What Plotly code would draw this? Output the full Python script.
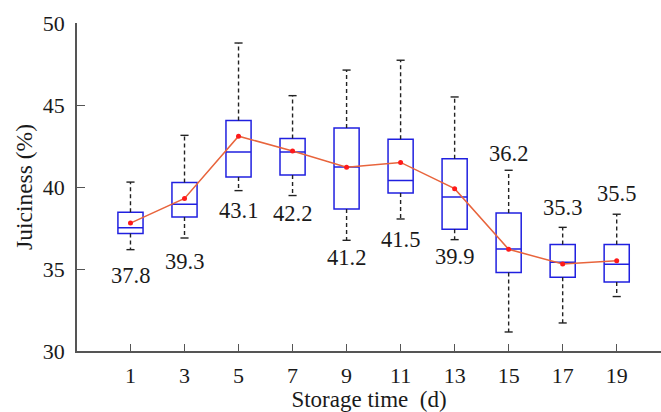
import plotly.graph_objects as go

days = [1, 3, 5, 7, 9, 11, 13, 15, 17, 19]
upper = [40.30, 43.15, 48.78, 45.57, 47.13, 47.73, 45.49, 41.02, 37.54, 38.34]
q3 = [38.46, 40.27, 44.05, 42.95, 43.60, 42.91, 41.73, 38.41, 36.49, 36.49]
median = [37.52, 38.95, 42.13, 42.13, 41.22, 40.39, 39.39, 36.22, 35.41, 35.29]
q1 = [37.16, 38.17, 40.61, 40.73, 38.66, 39.63, 37.42, 34.78, 34.49, 34.21]
lower = [36.18, 36.89, 39.78, 39.48, 36.75, 38.05, 36.79, 31.16, 31.71, 33.32]
means = [37.8, 39.3, 43.1, 42.2, 41.2, 41.5, 39.9, 36.2, 35.3, 35.5]
mean_labels = ["37.8", "39.3", "43.1", "42.2", "41.2", "41.5", "39.9", "36.2", "35.3", "35.5"]
x_ticks = [1, 3, 5, 7, 9, 11, 13, 15, 17, 19]
y_ticks = [30, 35, 40, 45, 50]

# label placement: 'below' the lower whisker or 'above' the upper whisker, pixel offsets
label_side = ["below"] * 7 + ["above"] * 3
label_offset = [26, 23, 20, 18, 17, 21, 17, 17, 20, 21]

FONT = "Times New Roman, Liberation Serif, serif"
TXT = "#1a1a1a"
AX = "#555555"

fig = go.Figure()

# dashed whiskers
wx, wy = [], []
for d, u, a, b, l in zip(days, upper, q3, q1, lower):
    wx += [d, d, None, d, d, None]
    wy += [a, u, None, b, l, None]
fig.add_trace(go.Scatter(x=wx, y=wy, mode="lines", line=dict(color="#222222", width=1.4, dash="4px,3px"),
                         hoverinfo="skip", showlegend=False))
# caps
cx, cy = [], []
cap = 0.15
for d, u, l in zip(days, upper, lower):
    cx += [d - cap, d + cap, None, d - cap, d + cap, None]
    cy += [u, u, None, l, l, None]
fig.add_trace(go.Scatter(x=cx, y=cy, mode="lines", line=dict(color="#222222", width=1.4),
                         hoverinfo="skip", showlegend=False))

# boxes
fig.add_trace(go.Box(x=days, q1=q1, median=median, q3=q3, lowerfence=q1, upperfence=q3,
                     width=0.93, line=dict(color="#2020e0", width=1.5), fillcolor="rgba(255,255,255,0)",
                     whiskerwidth=0, boxpoints=False, showlegend=False))

# mean line
fig.add_trace(go.Scatter(x=days, y=means, mode="lines+markers",
                         line=dict(color="#e8643c", width=1.5),
                         marker=dict(color="#ff1a1a", size=5),
                         showlegend=False))

for d, lab, side, off, u, l in zip(days, mean_labels, label_side, label_offset, upper, lower):
    if side == "below":
        fig.add_annotation(x=d, y=l, text=lab, showarrow=False, yanchor="middle", yshift=-off,
                           font=dict(family=FONT, size=22.5, color=TXT))
    else:
        fig.add_annotation(x=d, y=u, text=lab, showarrow=False, yanchor="middle", yshift=off,
                           font=dict(family=FONT, size=22.5, color=TXT))

fig.update_layout(
    width=661, height=412,
    margin=dict(l=77, r=0, t=23, b=61),
    plot_bgcolor="white", paper_bgcolor="white",
    font=dict(family=FONT, size=22, color=TXT),
    xaxis=dict(range=[-0.98, 20.64], tickvals=x_ticks, ticktext=[str(t) for t in x_ticks],
               showgrid=False, zeroline=False, showline=True, linecolor=AX, linewidth=1.8,
               ticks="inside", ticklen=7, tickcolor=AX, tickwidth=1.2,
               ticklabelstandoff=4,
               title=dict(text="Storage time&nbsp; (d)", standoff=0, font=dict(size=23))),
    yaxis=dict(range=[30, 50], tickvals=y_ticks, showgrid=False, zeroline=False,
               showline=True, linecolor=AX, linewidth=1.8,
               ticks="inside", ticklen=8, tickcolor=AX, tickwidth=1.2,
               ticklabelstandoff=6,
               title=dict(text="Juiciness (%)", standoff=3, font=dict(size=23.5))),
)

fig.write_html("out.html", config={"displayModeBar": False},
               post_script="document.body.style.margin='0';")
